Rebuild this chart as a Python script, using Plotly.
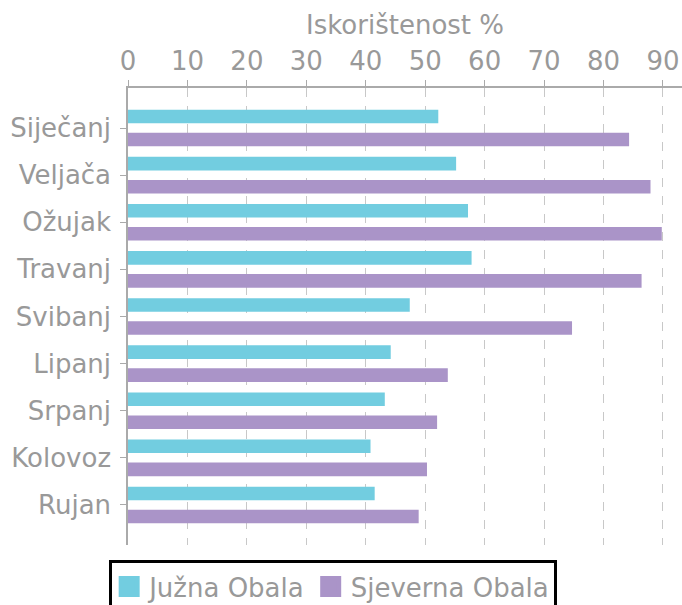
import plotly.graph_objects as go

months = ["Siječanj", "Veljača", "Ožujak", "Travanj", "Svibanj", "Lipanj", "Srpanj", "Kolovoz", "Rujan"]
juzna = [52.2, 55.2, 57.2, 57.8, 47.4, 44.2, 43.2, 40.8, 41.5]
sjeverna = [84.3, 87.9, 89.8, 86.4, 74.7, 53.8, 52.0, 50.3, 48.9]
series_names = ["Južna Obala", "Sjeverna Obala"]
colors = ["#72CDE0", "#AA94C8"]
x_ticks = [0, 10, 20, 30, 40, 50, 60, 70, 80, 90]

GRAY = "#999999"
LINE = "#aaaaaa"
FONT = "DejaVu Sans"
FS = 26

fig = go.Figure()
for vals, name, col in zip([juzna, sjeverna], series_names, colors):
    fig.add_trace(go.Bar(y=months, x=vals, name=name, orientation="h",
                         marker=dict(color=col, line=dict(width=0)),
                         legendgroup=name, showlegend=False))
    # legend proxy with a larger square symbol
    fig.add_trace(go.Scatter(x=[None], y=[None], mode="markers", name=name,
                             legendgroup=name, showlegend=True,
                             marker=dict(symbol="square", size=16, color=col,
                                         line=dict(color=col, width=5))))

fig.update_layout(
    width=682, height=605,
    margin=dict(l=128, r=0, t=88, b=60, autoexpand=False),
    paper_bgcolor="white", plot_bgcolor="white",
    font=dict(family=FONT, size=FS, color=GRAY),
    barmode="group", bargap=0.023, bargroupgap=0.41,
    showlegend=True,
    legend=dict(orientation="h", x=-0.034, xanchor="left", y=-0.033, yanchor="top",
                bordercolor="black", borderwidth=3, font=dict(size=FS, color=GRAY),
                itemsizing="trace"),
    xaxis=dict(side="top", range=[0, 93.2], tickvals=x_ticks, automargin=False,
               showline=True, linecolor=LINE, linewidth=1.5,
               ticks="outside", ticklen=6, tickcolor=LINE,
               showgrid=True, gridcolor="#c8c8c8", griddash="dash", gridwidth=1,
               zeroline=False,
               tickfont=dict(size=FS, color=GRAY),
               title=dict(text="Iskorištenost %", font=dict(size=FS, color=GRAY), standoff=4)),
    yaxis=dict(categoryorder="array", categoryarray=months, range=[8.85, -0.85],
               automargin=False,
               showline=True, linecolor=LINE, linewidth=1.5,
               ticks="outside", ticklen=6, tickcolor=LINE, ticklabelstandoff=4,
               showgrid=False, zeroline=False,
               tickfont=dict(size=FS, color=GRAY)),
)

fig.write_html("out.html", config={"displayModeBar": False},
               post_script="document.body.style.margin='0';")
